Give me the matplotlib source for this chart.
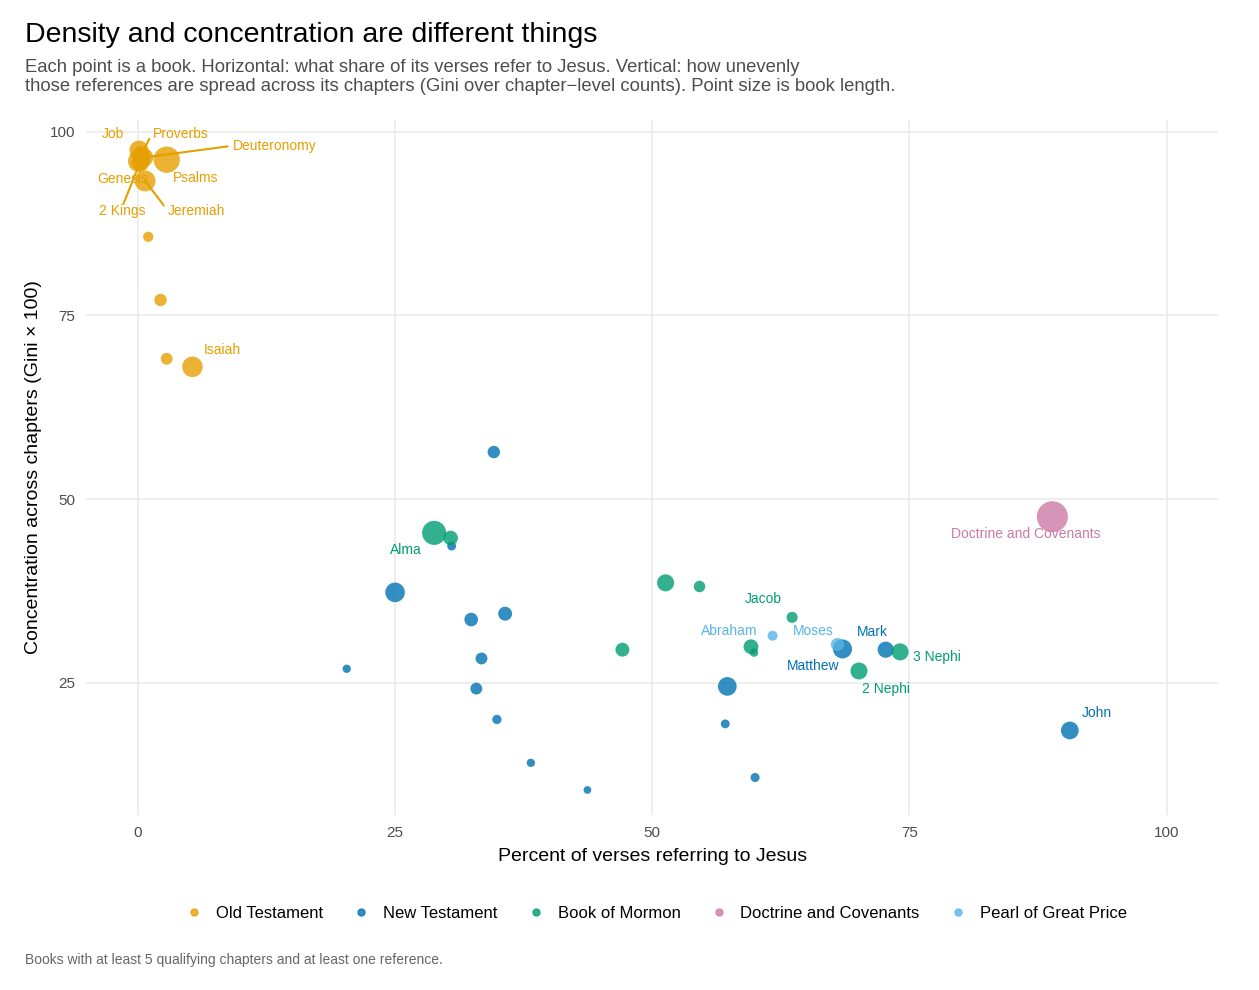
import numpy as np
import matplotlib.pyplot as plt

plt.rcParams['font.family'] = ['Liberation Sans', 'DejaVu Sans']

colors = {"Old Testament": "#E69F00", "New Testament": "#0072B2",
          "Book of Mormon": "#009E73", "Doctrine and Covenants": "#CC79A7",
          "Pearl of Great Price": "#56B4E9"}

# book, volume, percent referring, gini*100, verses
books = (["Job", "Proverbs", "Genesis", "2 Kings", "Deuteronomy", "Psalms", "Jeremiah",
          "", "", "", "Isaiah"]
         + [""] * 14 + ["Matthew", "Mark", "John"]
         + ["Alma", "", "", "", "", "Jacob", "", "", "3 Nephi", "2 Nephi"]
         + ["Doctrine and Covenants", "Abraham", "Moses"])
volume = (["Old Testament"] * 11 + ["New Testament"] * 17 + ["Book of Mormon"] * 10
          + ["Doctrine and Covenants"] + ["Pearl of Great Price"] * 2)
pct = [0.1, 0.3, 0.1, 0.2, 0.6, 2.8, 0.7, 1.0, 2.2, 2.8, 5.3,
       34.6, 30.5, 25.0, 32.4, 35.7, 20.3, 33.4, 32.9, 34.9, 38.2, 43.7, 57.3, 57.1, 60.0,
       68.5, 72.7, 90.6,
       28.8, 30.4, 47.1, 51.3, 54.6, 63.6, 59.6, 59.9, 74.1, 70.1,
       88.9, 61.7, 68.0]
gini = [97.5, 96.8, 96.0, 95.8, 96.5, 96.2, 93.3, 85.7, 77.1, 69.1, 68.0,
        56.4, 43.6, 37.3, 33.6, 34.4, 26.9, 28.3, 24.2, 20.0, 14.1, 10.4, 24.5, 19.4, 12.1,
        29.6, 29.5, 18.5,
        45.4, 44.7, 29.5, 38.6, 38.1, 33.9, 29.9, 29.1, 29.2, 26.6,
        47.6, 31.4, 30.2]
verses = [1070, 915, 1533, 719, 959, 2461, 1364, 150, 300, 250, 1292,
          300, 80, 1151, 400, 433, 60, 256, 257, 100, 60, 40, 1007, 80, 90,
          1071, 678, 879,
          1975, 500, 430, 785, 230, 203, 520, 63, 785, 779,
          3654, 136, 356]

fig = plt.figure(figsize=(12.59, 9.9), dpi=100)
ax = fig.add_axes([0.0687, 0.1768, 0.8987, 0.702])

for p, g, v, vol in zip(pct, gini, verses, volume):
    r = 2.5 + 13 * np.sqrt(v / 3654)
    ax.scatter(p, g, s=(2 * r * 0.72) ** 2, color=colors[vol], alpha=0.8,
               edgecolors='none', zorder=3)

# label positions (text anchors)
lab = {"Job": (-2.4, 99.7, False), "Proverbs": (4.2, 99.7, True),
       "Deuteronomy": (13.3, 98.1, True), "Genesis": (-1.5, 93.6, False),
       "2 Kings": (-1.5, 89.2, True), "Jeremiah": (5.7, 89.2, True),
       "Psalms": (5.6, 93.7, False), "Isaiah": (8.2, 70.3, False),
       "Alma": (26.0, 43.0, False), "Doctrine and Covenants": (86.3, 45.3, False),
       "Jacob": (60.8, 36.4, False), "Abraham": (57.5, 32.1, False),
       "Moses": (65.7, 32.1, False), "Mark": (71.4, 31.9, False),
       "Matthew": (65.6, 27.3, False), "3 Nephi": (77.7, 28.5, False),
       "2 Nephi": (72.7, 24.2, False), "John": (93.2, 20.9, False)}
ends = {"Proverbs": (1.1, 99.0), "Deuteronomy": (8.7, 98.0),
        "2 Kings": (-1.4, 90.2), "Jeremiah": (2.5, 90.0)}
for b, p, g, vol in zip(books, pct, gini, volume):
    if b in lab:
        tx, ty, line = lab[b]
        c = colors[vol]
        ax.text(tx, ty, b, color=c, fontsize=10, ha='center', va='center', zorder=4)
        if line:
            ex, ey = ends[b]
            ax.plot([p, ex], [g, ey], color=c, lw=1.5, zorder=2)

ax.set_xlim(-5, 105)
ax.set_ylim(7, 101.6)
ax.set_xticks([0, 25, 50, 75, 100])
ax.set_yticks([25, 50, 75, 100])
ax.grid(True, color='#EBEBEB', lw=1.2)
ax.set_axisbelow(True)
for s in ax.spines.values():
    s.set_visible(False)
ax.tick_params(length=0, labelsize=11, labelcolor='#4D4D4D', pad=8)
ax.set_xlabel("Percent of verses referring to Jesus", fontsize=14, labelpad=6)
ax.set_ylabel("Concentration across chapters (Gini \u00d7 100)", fontsize=14, labelpad=6)

fig.text(0.02, 0.965, "Density and concentration are different things", fontsize=20.5, va='center')
fig.text(0.02, 0.922, "Each point is a book. Horizontal: what share of its verses refer to Jesus. Vertical: how unevenly\n"
         "those references are spread across its chapters (Gini over chapter\u2212level counts). Point size is book length.",
         fontsize=13.3, color='#4D4D4D', va='center', linespacing=1.15)
fig.text(0.02, 0.03, "Books with at least 5 qualifying chapters and at least one reference.",
         fontsize=10, color='#666666', va='center')

handles = [plt.Line2D([], [], marker='o', ls='', color=c, markersize=5, alpha=0.8) for c in colors.values()]
fig.legend(handles, list(colors.keys()), loc='center', bbox_to_anchor=(0.518, 0.077), ncol=5,
           frameon=False, fontsize=12, handletextpad=0.3, columnspacing=1.3)

fig.savefig("out.png", dpi=100)
